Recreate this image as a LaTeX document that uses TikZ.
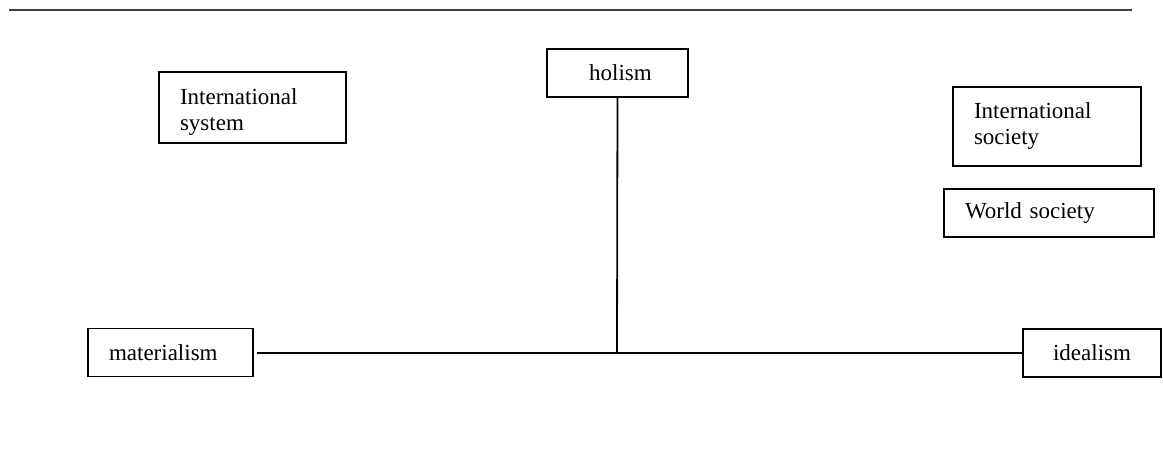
\documentclass[tikz,border=0pt]{standalone}
\usepackage{fontspec}
\setmainfont{Liberation Serif}
\begin{document}
\begin{tikzpicture}[x=0.5pt,y=-0.5pt,
  box/.style={draw, line width=0.7pt, fill=white, inner ysep=0pt, font=\fontsize{11.5}{13}\selectfont},
  lbox/.style={box, align=left, inner xsep=10.5pt},
  conn/.style={line width=0.9pt}]
\useasboundingbox[fill=white] (0,0) rectangle (1163,466);
\draw[line width=0.8pt, black!75] (9,10) -- (1132,10);
\node[lbox, text width=72.5pt, minimum height=35.5pt] (isys) at (252.5,107.5) {\rule{0pt}{12pt}International\\system};
\node[box, minimum width=70.5pt, minimum height=24pt] (hol) at (617.5,73) {\hspace{3pt}holism};
\node[lbox, text width=73pt, minimum height=39.5pt] (isoc) at (1047,126.5) {International\\society};
\node[lbox, text width=84pt, minimum height=24pt] (wsoc) at (1049,213) {World society};
\node[lbox, text width=61.5pt, minimum height=24pt] (mat) at (170.5,352.5) {materialism};
\node[box, minimum width=69pt, minimum height=24pt] (idl) at (1092,353) {idealism};
\coordinate (j) at (617,353);
\draw[conn, shorten <=1.5pt] (mat.east |- j) -- (idl.west |- j);
\draw[conn] (hol.south) -- (j);
\end{tikzpicture}
\end{document}
